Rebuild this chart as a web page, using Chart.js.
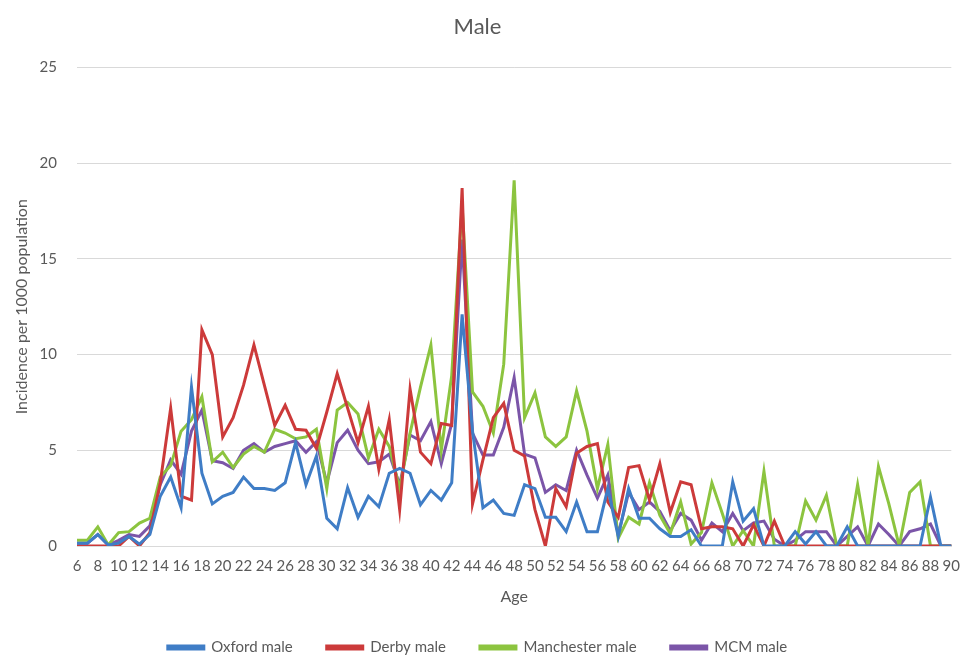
<!DOCTYPE html>
<html>
<head>
<meta charset="utf-8">
<script src="https://cdn.jsdelivr.net/npm/chart.js@4.4.1/dist/chart.umd.min.js"></script>
<style>
  html, body { margin: 0; padding: 0; background: #fff; }
  #wrap { width: 971px; height: 659px; }
</style>
</head>
<body>
<div id="wrap"><canvas id="maleChart" width="971" height="659"></canvas></div>
<script>
// ages 6..90, one point per year
const ages = [6, 7, 8, 9, 10, 11, 12, 13, 14, 15,
    16, 17, 18, 19, 20, 21, 22, 23, 24, 25,
    26, 27, 28, 29, 30, 31, 32, 33, 34, 35,
    36, 37, 38, 39, 40, 41, 42, 43, 44, 45,
    46, 47, 48, 49, 50, 51, 52, 53, 54, 55,
    56, 57, 58, 59, 60, 61, 62, 63, 64, 65,
    66, 67, 68, 69, 70, 71, 72, 73, 74, 75,
    76, 77, 78, 79, 80, 81, 82, 83, 84, 85,
    86, 87, 88, 89, 90];

const oxford = [0.15, 0.15, 0.6, 0.05, 0.15, 0.5, 0.1, 0.6, 2.6, 3.6,
    2.0, 8.3, 3.8, 2.2, 2.6, 2.8, 3.6, 3.0, 3.0, 2.9,
    3.3, 5.4, 3.2, 4.7, 1.45, 0.9, 3.05, 1.5, 2.6, 2.05,
    3.8, 4.05, 3.8, 2.15, 2.9, 2.4, 3.3, 12.1, 6.0, 2.0,
    2.4, 1.7, 1.6, 3.2, 3.0, 1.5, 1.5, 0.75, 2.3, 0.75,
    0.75, 3.0, 0.5, 3.0, 1.45, 1.45, 0.9, 0.5, 0.5, 0.85,
    0, 0, 0, 3.35, 1.3, 1.95, 0, 0, 0, 0.75,
    0.1, 0.75, 0, 0, 1.0, 0, 0, 0, 0, 0,
    0, 0, 2.55, 0, 0];

const derby = [0, 0, 0, 0, 0, 0.5, 0, 0.7, 3.3, 7.2,
    2.6, 2.4, 11.3, 10.0, 5.7, 6.7, 8.4, 10.5, 8.4, 6.3,
    7.35, 6.1, 6.05, 5.1, 7.0, 9.0, 7.2, 5.4, 7.3, 4.0,
    6.6, 1.9, 8.2, 4.9, 4.3, 6.4, 6.3, 18.7, 2.2, 4.5,
    6.7, 7.45, 5.0, 4.7, 1.9, 0, 3.0, 2.05, 4.85, 5.2,
    5.35, 2.3, 1.5, 4.1, 4.2, 2.4, 4.3, 1.75, 3.35, 3.2,
    0.9, 1.0, 1.0, 0.9, 0, 1.1, 0, 1.3, 0, 0,
    0, 0, 0, 0, 0, 0, 0, 0, 0, 0,
    0, 0, 0, 0, 0];

const manchester = [0.3, 0.3, 1.0, 0.05, 0.7, 0.75, 1.2, 1.45, 3.6, 4.2,
    6.0, 6.6, 7.8, 4.4, 4.9, 4.1, 4.8, 5.2, 4.9, 6.1,
    5.9, 5.6, 5.7, 6.1, 3.0, 7.1, 7.5, 6.9, 4.6, 6.1,
    5.2, 3.0, 5.9, 8.3, 10.5, 5.0, 8.9, 17.8, 8.05, 7.3,
    5.9, 9.5, 19.1, 6.7, 8.0, 5.7, 5.2, 5.7, 8.1, 6.0,
    3.0, 5.3, 0.4, 1.5, 1.15, 3.3, 1.6, 0.65, 2.3, 0.1,
    0.7, 3.3, 1.7, 0, 0.8, 0, 3.9, 0, 0, 0,
    2.35, 1.35, 2.65, 0, 0, 3.2, 0, 4.15, 2.2, 0,
    2.8, 3.35, 0, 0, 0];

const mcm = [0.15, 0.15, 0.6, 0.05, 0.3, 0.6, 0.5, 1.05, 3.2, 4.5,
    3.75, 6.0, 7.1, 4.45, 4.35, 4.05, 5.0, 5.35, 4.9, 5.2,
    5.35, 5.5, 4.9, 5.45, 3.3, 5.4, 6.05, 5.0, 4.3, 4.4,
    4.8, 3.2, 5.8, 5.5, 6.5, 4.3, 6.4, 16.0, 5.9, 4.75,
    4.75, 6.2, 8.8, 4.8, 4.6, 2.8, 3.2, 2.9, 5.0, 3.7,
    2.5, 3.7, 0.6, 2.8, 1.9, 2.3, 1.8, 0.8, 1.7, 1.35,
    0.3, 1.2, 0.75, 1.7, 0.8, 1.2, 1.3, 0.35, 0, 0.3,
    0.75, 0.75, 0.75, 0, 0.5, 1.0, 0, 1.15, 0.6, 0,
    0.75, 0.9, 1.15, 0, 0];

const seriesNames = ["Oxford male", "Derby male", "Manchester male", "MCM male"];
const seriesColors = ["#3f7dc6", "#cc3a3a", "#8cc43f", "#7b55a8"];
const yMax = 25;
const yStep = 5;

const textColor = "#595959";
const fontFamily = "Lato, 'Noto Sans', sans-serif";

const allSeries = [oxford, derby, manchester, mcm];

const ctx = document.getElementById("maleChart").getContext("2d");

new Chart(ctx, {
    type: "line",
    data: {
        labels: ages,
        datasets: allSeries.map((vals, i) => ({
            label: seriesNames[i],
            data: vals,
            borderColor: seriesColors[i],
            backgroundColor: seriesColors[i],
            borderWidth: 3,
            pointRadius: 0,
            tension: 0
        }))
    },
    options: {
        responsive: false,
        animation: false,
        layout: { padding: { left: 0, right: 16, top: 0, bottom: 0 } },
        plugins: {
            title: {
                display: true,
                text: "Male",
                color: textColor,
                font: { family: fontFamily, size: 22, weight: "normal" },
                padding: { top: 14, bottom: 27 }
            },
            legend: {
                position: "bottom",
                maxHeight: 53,
                labels: {
                    color: textColor,
                    font: { family: fontFamily, size: 15 },
                    boxWidth: 36,
                    boxHeight: 3,
                    padding: 34
                }
            },
            tooltip: { enabled: false }
        },
        scales: {
            x: {
                type: "category",
                offset: false,
                grid: { display: false, drawTicks: false },
                border: { display: true, color: "#d9d9d9" },
                ticks: {
                    color: textColor,
                    font: { family: fontFamily, size: 15 },
                    autoSkip: false,
                    maxRotation: 0,
                    minRotation: 0,
                    padding: 11,
                    callback: function (val) {
                        const age = this.getLabelForValue(val);
                        return age % 2 === 0 ? String(age) : "";
                    }
                },
                title: {
                    display: true,
                    text: "Age",
                    color: textColor,
                    font: { family: fontFamily, size: 16 },
                    padding: { top: 0, bottom: 0 }
                },
                afterFit: function (scale) { scale.height = 60; }
            },
            y: {
                min: 0,
                max: yMax,
                grid: { color: "#d9d9d9", lineWidth: 1, drawTicks: false },
                border: { display: false },
                ticks: {
                    stepSize: yStep,
                    color: textColor,
                    font: { family: fontFamily, size: 15 },
                    padding: 20
                },
                title: {
                    display: true,
                    text: "Incidence per 1000 population",
                    color: textColor,
                    font: { family: fontFamily, size: 16 },
                    padding: { top: 12, bottom: 0 }
                },
                afterFit: function (scale) { scale.width = 77; }
            }
        }
    }
});
</script>
</body>
</html>
